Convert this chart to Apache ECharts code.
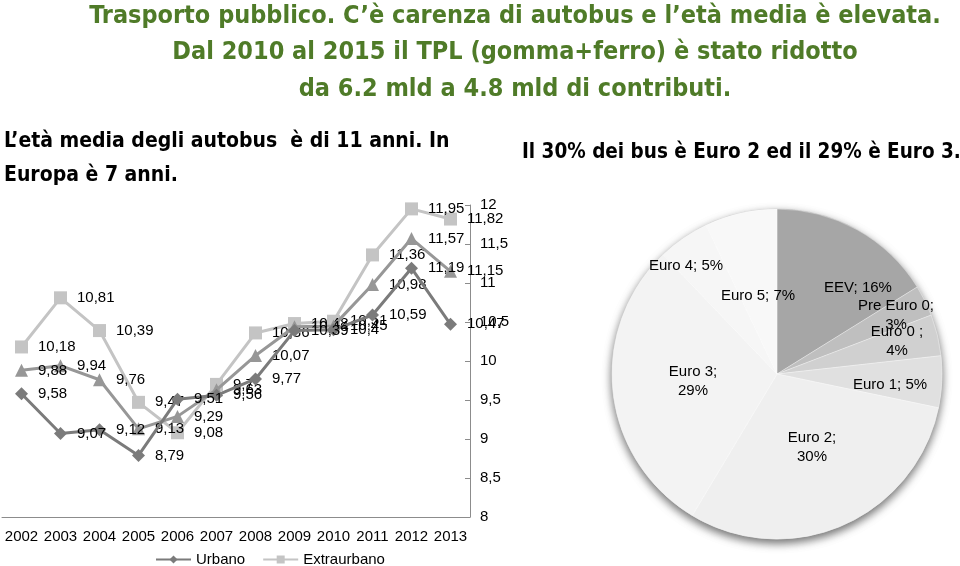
<!DOCTYPE html>
<html>
<head>
<meta charset="utf-8">
<script src="https://cdn.jsdelivr.net/npm/echarts@6/dist/echarts.min.js"></script>
<style>
html,body{margin:0;padding:0;background:#fff;}
#chart{width:960px;height:566px;}
</style>
</head>
<body>
<div id="chart"></div>
<script>
// ---- data ----
const years = ['2002','2003','2004','2005','2006','2007','2008','2009','2010','2011','2012','2013'];
const urbano = [9.58, 9.07, 9.12, 8.79, 9.51, 9.56, 9.77, 10.39, 10.4, 10.59, 11.19, 10.47];
const extraurbano = [10.18, 10.81, 10.39, 9.47, 9.08, 9.7, 10.36, 10.48, 10.51, 11.36, 11.95, 11.82];
const totale = [9.88, 9.94, 9.76, 9.13, 9.29, 9.63, 10.07, 10.44, 10.45, 10.98, 11.57, 11.15];
const yTicks = {min: 8, max: 12, step: 0.5};

const pieNames = ['EEV', 'Pre Euro 0', 'Euro 0 ', 'Euro 1', 'Euro 2', 'Euro 3', 'Euro 4', 'Euro 5'];
const pieValues = [16, 3, 4, 5, 30, 29, 5, 7];

// ---- layout / style ----
const pieColors = ['#a6a6a6', '#bfbfbf', '#d0d0d0', '#e0e0e0', '#efefef', '#f3f3f3', '#f6f6f6', '#f8f8f8'];
const pieWrap = [false, true, true, false, true, true, false, false];
const pieLabelPos = [[858,288],[896,315],[897,341],[890,385],[812,447],[693,381],[686,266],[758,296]];

const comma = v => String(v).replace('.', ',');
const numFont = 'Liberation Sans, Arial, sans-serif';
const titleFont = "'Liberation Sans Narrow', 'DejaVu Sans Condensed', sans-serif";

const chart = echarts.init(document.getElementById('chart'), null, {renderer: 'canvas'});

const lineLabel = {
  show: true, position: 'right', distance: 10,
  color: '#000', fontSize: 15, fontFamily: numFont,
  formatter: p => comma(p.value)
};

const pieTotal = pieValues.reduce((a, b) => a + b, 0);

chart.setOption({
  animation: false,
  backgroundColor: '#fff',
  title: [
    {
      text: 'Trasporto pubblico. C\u2019è carenza di autobus e l\u2019età media è elevata.\nDal 2010 al 2015 il TPL (gomma+ferro) è stato ridotto\nda 6.2 mld a 4.8 mld di contributi.',
      left: 510, top: -7, textAlign: 'center',
      textStyle: {color: '#4f7b28', fontSize: 25, fontWeight: 'bold', fontFamily: titleFont, lineHeight: 36.5}
    },
    {
      text: 'L\u2019età media degli autobus  è di 11 anni. In\nEuropa è 7 anni.',
      left: -1, top: 120,
      textStyle: {color: '#000', fontSize: 21, fontWeight: 'bold', fontFamily: titleFont, lineHeight: 34}
    },
    {
      text: 'Il 30% dei bus è Euro 2 ed il 29% è Euro 3.',
      left: 517, top: 137,
      textStyle: {color: '#000', fontSize: 20.5, fontWeight: 'bold', fontFamily: titleFont}
    }
  ],
  legend: {
    data: ['Urbano', 'Extraurbano'],
    left: 150, top: 547,
    itemWidth: 35, itemHeight: 10, itemGap: 17,
    textStyle: {color: '#000', fontSize: 15, fontFamily: numFont}
  },
  grid: {left: 2, right: 490, top: 205, bottom: 49, containLabel: false},
  xAxis: {
    type: 'category', data: years, boundaryGap: true,
    axisLine: {lineStyle: {color: '#8c8c8c', width: 1}},
    axisTick: {show: false},
    axisLabel: {color: '#000', fontSize: 15, fontFamily: numFont, margin: 12, interval: 0}
  },
  yAxis: {
    type: 'value', position: 'right',
    min: yTicks.min, max: yTicks.max, interval: yTicks.step,
    axisLine: {show: true, lineStyle: {color: '#8c8c8c', width: 1}},
    axisTick: {show: true, inside: true, length: 5, lineStyle: {color: '#8c8c8c'}},
    splitLine: {show: false},
    axisLabel: {color: '#000', fontSize: 15, fontFamily: numFont, margin: 10, formatter: v => comma(v)}
  },
  series: [
    {
      name: 'Totale', type: 'line', data: totale,
      symbol: 'triangle', symbolSize: 13,
      lineStyle: {color: '#979797', width: 3},
      itemStyle: {color: '#979797'},
      label: lineLabel, z: 3
    },
    {
      name: 'Extraurbano', type: 'line', data: extraurbano,
      symbol: 'rect', symbolSize: 13,
      lineStyle: {color: '#c4c4c4', width: 3},
      itemStyle: {color: '#c4c4c4'},
      label: lineLabel, z: 2
    },
    {
      name: 'Urbano', type: 'line', data: urbano,
      symbol: 'diamond', symbolSize: 13,
      lineStyle: {color: '#7b7b7b', width: 3},
      itemStyle: {color: '#7b7b7b'},
      label: lineLabel, z: 4
    },
    {
      name: 'pieShadow', type: 'pie', silent: true, z: 1,
      center: [777, 374], radius: 165,
      data: [{name: 'shadow', value: pieTotal}],
      itemStyle: {color: '#f4f4f4', borderColor: '#cfcfcf', borderWidth: 1, shadowBlur: 8, shadowColor: 'rgba(0,0,0,0.55)', shadowOffsetY: 4},
      label: {show: false}, labelLine: {show: false},
      emphasis: {disabled: true}, tooltip: {show: false}
    },
    {
      name: 'Euro', type: 'pie', z: 2,
      center: [777, 374], radius: 165,
      startAngle: 90, clockwise: true,
      data: pieNames.map((n, i) => ({name: n, value: pieValues[i], itemStyle: {color: pieColors[i]}})),
      itemStyle: {borderColor: 'rgba(255,255,255,0.6)', borderWidth: 0.5},
      label: {
        show: true, position: 'inside', color: '#000', fontSize: 15, fontFamily: numFont, lineHeight: 19, align: 'center',
        formatter: p => p.name + ';' + (pieWrap[p.dataIndex] ? '\n' : ' ') + p.value + '%'
      },
      labelLine: {show: false},
      labelLayout: p => ({x: pieLabelPos[p.dataIndex][0], y: pieLabelPos[p.dataIndex][1], align: 'center', verticalAlign: 'middle'}),
      emphasis: {disabled: true}
    }
  ]
});
</script>
</body>
</html>
